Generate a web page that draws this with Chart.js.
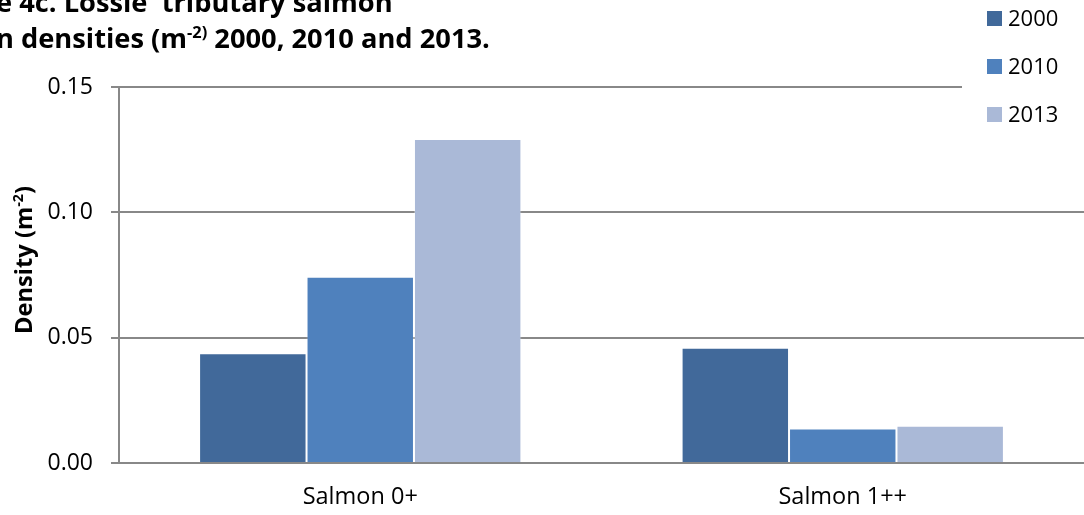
<!DOCTYPE html>
<html>
<head>
<meta charset="utf-8">
<title>Lossie tributary salmon densities</title>
<script src="https://cdn.jsdelivr.net/npm/chart.js@4.4.1/dist/chart.umd.min.js"></script>
<style>
  body { margin: 0; background: #fff; }
  canvas { display: block; }
</style>
</head>
<body>
<canvas id="densityChart" width="1084" height="515"></canvas>
<script>
const categories = ["Salmon 0+", "Salmon 1++"];
const years = ["2000", "2010", "2013"];
const density2000 = [0.0438, 0.046];
const density2010 = [0.0743, 0.0138];
const density2013 = [0.1293, 0.0149];
const yTicks = [0, 0.05, 0.1, 0.15];

const colours = ["#41699A", "#4F81BD", "#AAB9D7"];
const FONT = "'Open Sans', Lato, sans-serif";
const GRID = "#888888";

// text made of pieces, some of them raised as superscripts
const richWidth = (ctx, parts, size) =>
  parts.reduce((w, [text, sup]) => {
    ctx.font = `bold ${sup ? size * 0.6 : size}px ${FONT}`;
    return w + ctx.measureText(text).width;
  }, 0);

const drawRich = (ctx, parts, x, y, size) => {
  let cx = x;
  parts.forEach(([text, sup]) => {
    ctx.font = `bold ${sup ? size * 0.6 : size}px ${FONT}`;
    ctx.fillText(text, cx, sup ? y - size * 0.38 : y);
    cx += ctx.measureText(text).width;
  });
};

// font size that makes a run of text a given width
const fitSize = (ctx, parts, width) => 20 * width / richWidth(ctx, parts, 20);

const heading1 = [["e 4c. Lossie  tributary salmon", false]];
const heading2 = [["n densities (m", false], ["-2)", true], [" 2000, 2010 and 2013.", false]];
const yTitle = [["Density (m", false], ["-2", true], [")", false]];

const decor = {
  id: "decor",
  afterDraw(chart) {
    const ctx = chart.ctx;
    ctx.save();
    ctx.fillStyle = "#000";
    ctx.textAlign = "left";

    // heading, clipped at the left edge
    ctx.textBaseline = "alphabetic";
    const hs = fitSize(ctx, heading2, 494);
    drawRich(ctx, heading1, -4, 12, hs);
    drawRich(ctx, heading2, -4, 48, hs);

    // y axis title
    const ts = fitSize(ctx, yTitle, 148);
    ctx.save();
    ctx.translate(32, 260);
    ctx.rotate(-Math.PI / 2);
    drawRich(ctx, yTitle, -richWidth(ctx, yTitle, ts) / 2, 0, ts);
    ctx.restore();

    // legend box in the top right corner
    ctx.fillStyle = "#fff";
    ctx.fillRect(962, 0, 122, 150);
    ctx.textBaseline = "middle";
    ctx.font = `22px ${FONT}`;
    chart.data.datasets.forEach((ds, i) => {
      const cy = 18.5 + i * 48;
      ctx.fillStyle = ds.backgroundColor;
      ctx.fillRect(987, cy - 7.5, 15, 15);
      ctx.fillStyle = "#000";
      ctx.fillText(ds.label, 1008, cy + 1);
    });
    ctx.restore();
  },
};

const datasets = [density2000, density2010, density2013].map((data, i) => ({
  label: years[i],
  data,
  backgroundColor: colours[i],
  borderColor: "rgba(255,255,255,0.3)",
  borderWidth: 1,
  categoryPercentage: 0.668,
  barPercentage: 1,
}));

new Chart(document.getElementById("densityChart"), {
  type: "bar",
  data: { labels: categories, datasets },
  options: {
    responsive: false,
    animation: false,
    layout: { padding: { top: 87, right: 0, bottom: 0, left: 0 } },
    plugins: {
      legend: { display: false },
      tooltip: { enabled: false },
      title: { display: false },
    },
    scales: {
      x: {
        offset: true,
        grid: { display: false, drawTicks: false },
        border: { color: GRID, width: 2 },
        ticks: { color: "#000", font: { family: FONT, size: 23.5 }, padding: 20 },
        afterFit: (s) => { s.height = 52; },
      },
      y: {
        min: 0,
        max: 0.15,
        afterBuildTicks: (s) => { s.ticks = yTicks.map((value) => ({ value })); },
        ticks: {
          color: "#000",
          font: { family: FONT, size: 23 },
          padding: 18,
          callback: (v) => v.toFixed(2),
        },
        grid: { color: GRID, lineWidth: 2, tickLength: 8 },
        border: { color: GRID, width: 2 },
        afterFit: (s) => { s.width = 119; },
      },
    },
  },
  plugins: [decor],
});
</script>
</body>
</html>
